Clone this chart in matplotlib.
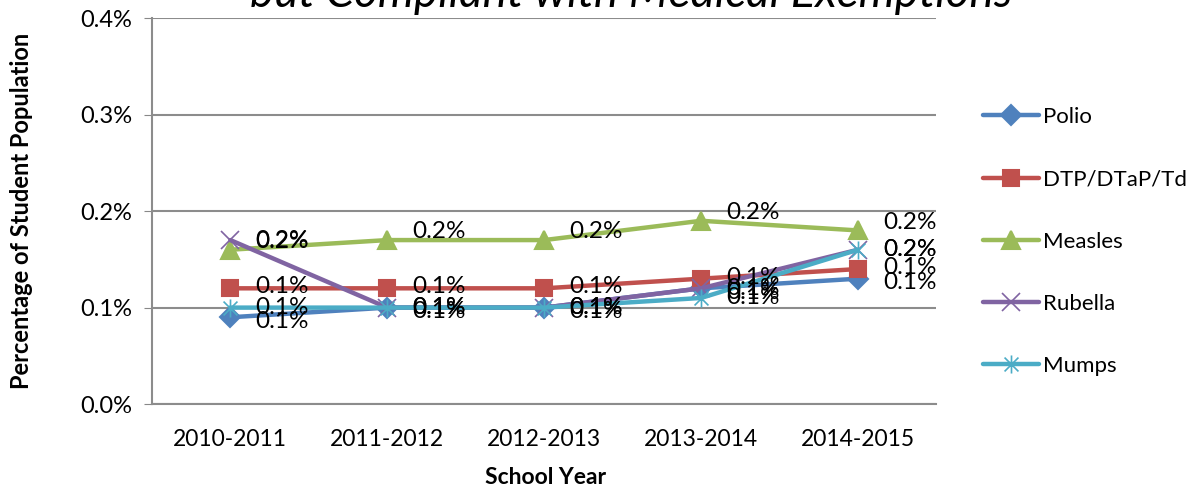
import matplotlib
matplotlib.use('Agg')
import matplotlib.pyplot as plt
from matplotlib.path import Path
from matplotlib.ticker import FuncFormatter

plt.rcParams['font.family'] = ['Lato', 'DejaVu Sans']

# data (percent of student population)
years = ['2010-2011', '2011-2012', '2012-2013', '2013-2014', '2014-2015']
polio = [0.09, 0.10, 0.10, 0.12, 0.13]
dtp = [0.12, 0.12, 0.12, 0.13, 0.14]
measles = [0.16, 0.17, 0.17, 0.19, 0.18]
rubella = [0.17, 0.10, 0.10, 0.12, 0.16]
mumps = [0.10, 0.10, 0.10, 0.11, 0.16]
series_names = ['Polio', 'DTP/DTaP/Td', 'Measles', 'Rubella', 'Mumps']

# asterisk marker like Excel's "star"
asterisk = Path([(-1, -1), (1, 1), (-1, 1), (1, -1), (0, -1.3), (0, 1.3)],
                [Path.MOVETO, Path.LINETO, Path.MOVETO, Path.LINETO, Path.MOVETO, Path.LINETO])

styles = [
    dict(color='#4F81BD', marker='D', ms=10, dy=-3),
    dict(color='#C0504D', marker='s', ms=12, dy=1),
    dict(color='#9BBB59', marker='^', ms=13, dy=6),
    dict(color='#8064A2', marker='x', ms=13, dy=0),
    dict(color='#4BACC6', marker=asterisk, ms=13, dy=0),
]

fig = plt.figure(figsize=(11.96, 4.91), dpi=100)
ax = fig.add_axes([0.127, 0.177, 0.656, 0.786])

x = list(range(len(years)))
for name, vals, st in zip(series_names, [polio, dtp, measles, rubella, mumps], styles):
    filled = st['marker'] != 'x' and not isinstance(st['marker'], Path)
    ax.plot(x, vals, color=st['color'], lw=3.2, marker=st['marker'], ms=st['ms'],
            markerfacecolor=st['color'] if filled else 'none',
            markeredgecolor=st['color'], markeredgewidth=1.5 if filled else 1.2,
            label=name, solid_capstyle='round', clip_on=False)
    for xi, v in zip(x, vals):
        ax.annotate(f'{v:.1f}%', xy=(xi, v), xytext=(18, st['dy']), textcoords='offset points',
                    ha='left', va='center', fontsize=17.5, color='black')

ax.set_xlim(-0.5, 4.5)
ax.set_ylim(0, 0.4)
ax.set_yticks([0, 0.1, 0.2, 0.3, 0.4])
ax.yaxis.set_major_formatter(FuncFormatter(lambda v, p: f'{v:.1f}%'))
ax.set_xticks(x)
ax.set_xticklabels(years)
ax.tick_params(axis='x', length=0, pad=18, labelsize=16.5)
ax.tick_params(axis='y', length=6, color='#888888', pad=8, labelsize=17)
ax.grid(axis='y', color='#8c8c8c', lw=1.5)
ax.set_axisbelow(True)
for s in ['top', 'right']:
    ax.spines[s].set_visible(False)
for s in ['left', 'bottom']:
    ax.spines[s].set_color('#8c8c8c')
    ax.spines[s].set_linewidth(1.5)

fig.text(0.456, 1 - 478 / 491, 'School Year', fontsize=16.5, fontweight='bold',
         ha='center', va='center')
fig.text(0.018, 1 - 211 / 491, 'Percentage of Student Population', rotation=90, fontsize=17,
         fontweight='bold', ha='center', va='center')

fig.text(0.528, 1 - 7 / 491, 'but Compliant with Medical Exemptions', fontsize=33,
         style='italic', ha='center', va='baseline')

ax.legend(loc='center left', bbox_to_anchor=(0.822, 0.508), bbox_transform=fig.transFigure,
          frameon=False, fontsize=16, labelspacing=1.9, handlelength=2.5, handletextpad=0.2,
          borderpad=0, borderaxespad=0)

fig.savefig('out.png', dpi=100, facecolor='white')
